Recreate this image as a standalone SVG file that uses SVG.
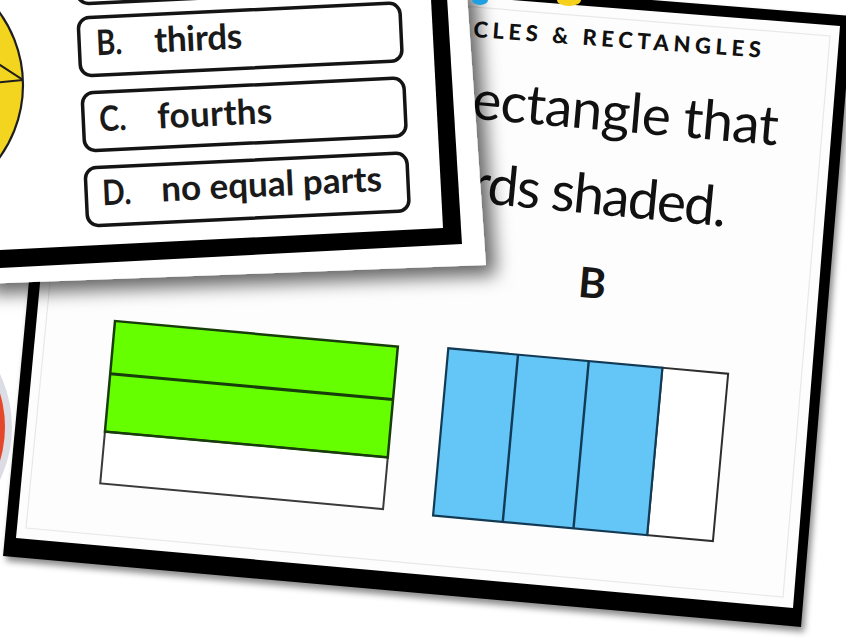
<svg xmlns="http://www.w3.org/2000/svg" width="846" height="639" viewBox="0 0 846 639">
<defs>
<style>
.opt{fill:#fff;stroke:#141414;stroke-width:3.5}
.otxt{font-family:Lato,"Liberation Sans",sans-serif;font-weight:700;font-size:35px;fill:#1a1a1a}
.big{font-family:Lato,"Liberation Sans",sans-serif;font-weight:400;font-size:55px;fill:#111111}
.ttl{font-family:Lato,"Liberation Sans",sans-serif;font-weight:900;font-size:22px;fill:#111111;letter-spacing:4px}
.lbl{font-family:Lato,"Liberation Sans",sans-serif;font-weight:700;font-size:42px;fill:#161616}
</style>
<filter id="shFront" x="-20%" y="-20%" width="150%" height="160%">
<feDropShadow dx="10" dy="10" stdDeviation="9" flood-color="#000" flood-opacity="0.6"/>
</filter>
<filter id="shBack" x="-10%" y="-10%" width="120%" height="125%">
<feDropShadow dx="3" dy="5" stdDeviation="3" flood-color="#000" flood-opacity="0.45"/>
</filter>
<clipPath id="circClip"><circle cx="-101" cy="85" r="124"/></clipPath>
</defs>

<rect width="846" height="639" fill="#ffffff"/>

<g id="red-circle">
<circle cx="-111" cy="427" r="123" fill="#dcdce4"/>
<circle cx="-111" cy="427" r="116" fill="#e5472b"/>
</g>

<g id="back-card">
<polygon points="60,-47 852,16 801,627 3,556" fill="#000" filter="url(#shBack)"/>
<polygon points="70,-35 840,26 793,608 16,538" fill="#fdfdfd"/>
<polygon points="80,-25 830,36 783,597 26,528" fill="none" stroke="#e8e8e8" stroke-width="1.2"/>
</g>

<g id="title">
<text class="ttl" x="473" y="37" transform="rotate(4.1 473 37)" textLength="292" lengthAdjust="spacing">CLES &amp; RECTANGLES</text>
</g>

<g id="question">
<text class="big" x="471" y="118.6" transform="rotate(5 471 118.6)" textLength="307" lengthAdjust="spacing">ectangle that</text>
<text class="big" x="469" y="202" transform="rotate(5.5 469 202)" textLength="257" lengthAdjust="spacing">rds shaded.</text>
</g>

<g id="label-b">
<text class="lbl" x="591" y="298" text-anchor="middle" transform="rotate(5 591 298)">B</text>
</g>

<g id="green-rect" transform="translate(115,321) rotate(5.2)">
<rect x="0" y="0" width="284" height="111" fill="#66ff00"/>
<rect x="0" y="111" width="284" height="52" fill="#ffffff" stroke="#3a3a3a" stroke-width="2"/>
<rect x="0" y="0" width="284" height="111" fill="none" stroke="#173d0a" stroke-width="2.5"/>
<line x1="0" y1="53" x2="284" y2="53" stroke="#173d0a" stroke-width="3"/>
</g>

<g id="blue-rect" transform="translate(448.3,348.3) rotate(5.2)">
<rect x="215" y="0" width="66" height="168" fill="#ffffff" stroke="#2e2e2e" stroke-width="2"/>
<rect x="0" y="0" width="215" height="168" fill="#63c6f7" stroke="#123a55" stroke-width="2.2"/>
<line x1="70" y1="0" x2="70" y2="168" stroke="#123a55" stroke-width="2.4"/>
<line x1="141" y1="0" x2="141" y2="168" stroke="#123a55" stroke-width="2.4"/>
</g>

<g id="front-card">
<polygon points="-20,-20 466,-20 486,265 -20,284" fill="#ffffff" filter="url(#shFront)"/>
<polygon points="-20,-20 446,-20 462,244 -20,269" fill="#000"/>
<polygon points="-20,-20 430,-20 443,228 -20,251" fill="#ffffff"/>
</g>

<g id="yellow-circle">
<circle cx="-101" cy="85" r="124" fill="#f3d41f" stroke="#1e1e1e" stroke-width="2.2"/>
<g clip-path="url(#circClip)" stroke="#1e1e1e" stroke-width="2">
<line x1="-20" y1="52" x2="23" y2="80"/>
<line x1="-20" y1="84" x2="23" y2="80"/>
</g>
</g>

<g id="option-a" transform="translate(75,-54) rotate(-2.7)">
<rect class="opt" x="0" y="0" width="322" height="58" rx="11"/>
</g>

<g id="option-b" transform="translate(78,18) rotate(-2.7)">
<rect class="opt" x="0" y="0" width="322" height="58" rx="11"/>
<text class="otxt" x="17" y="38" textLength="26" lengthAdjust="spacingAndGlyphs">B.</text>
<text class="otxt" x="75" y="38" textLength="88" lengthAdjust="spacing">thirds</text>
</g>

<g id="option-c" transform="translate(82,93) rotate(-2.7)">
<rect class="opt" x="0" y="0" width="322" height="58" rx="11"/>
<text class="otxt" x="16" y="39" textLength="27" lengthAdjust="spacingAndGlyphs">C.</text>
<text class="otxt" x="74" y="39" textLength="115" lengthAdjust="spacing">fourths</text>
</g>

<g id="option-d" transform="translate(85,168) rotate(-2.7)">
<rect class="opt" x="0" y="0" width="322" height="58" rx="11"/>
<text class="otxt" x="16" y="38" textLength="29" lengthAdjust="spacingAndGlyphs">D.</text>
<text class="otxt" x="75" y="37" textLength="221" lengthAdjust="spacing">no equal parts</text>
</g>

<g id="clip-art">
<ellipse cx="480" cy="0" rx="8" ry="5" fill="#1e9fe4"/>
<ellipse cx="569" cy="0" rx="12" ry="6" fill="#f5d01c"/>
</g>
</svg>
